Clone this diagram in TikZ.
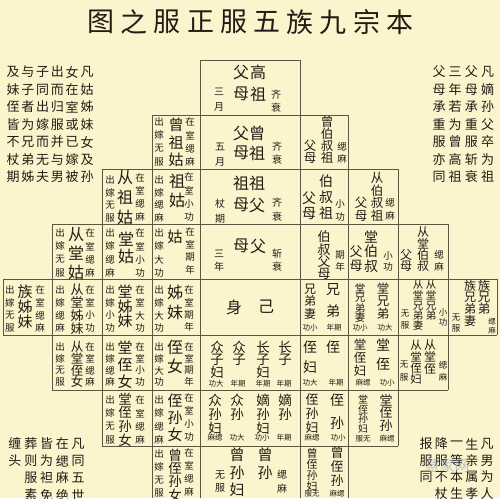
\documentclass[tikz,border=0pt]{standalone}
\usepackage{fontspec}
\setmainfont{Noto Sans CJK SC}
\definecolor{bgc}{RGB}{251,244,205}
\definecolor{lnc}{RGB}{95,85,65}
\definecolor{txc}{RGB}{35,28,20}
\definecolor{wmc}{RGB}{150,160,190}
\tikzset{
  chr/.style={inner sep=0pt, outer sep=0pt, text=txc},
  gl/.style={draw=lnc, line width=0.8pt},
}
% vertical column of characters: x, y of first centre, step, size, list
\newcommand{\vt}[5]{\foreach \zc [count=\zi from 0] in {#5}{\node[chr, font=\fontsize{#4}{#4}\selectfont] at ({#1},{#2+\zi*#3}) {\zc};}}
% horizontal row of characters: x of first centre, y, step, size, list
\newcommand{\hrow}[5]{\foreach \zc [count=\zi from 0] in {#5}{\node[chr, font=\fontsize{#4}{#4}\selectfont] at ({#1+\zi*#3},{#2}) {\zc};}}
% small horizontal note
\newcommand{\nt}[3]{\node[chr, font=\fontsize{7.5}{7.5}\selectfont] at (#1,#2) {#3};}
\begin{document}
\begin{tikzpicture}[x=1pt,y=-1pt]
\fill[bgc] (0,0) rectangle (500,498);
\useasboundingbox (0,0) rectangle (500,498);
% title
\hrow{101}{22}{33.2}{27}{图,之,服,正,服,五,族,九,宗,本}
% corner texts
\hrow{13}{72}{14.8}{13}{及,与,子,出,女,凡}
\hrow{13}{89.5}{14.8}{13}{妹,子,同,而,在,姑}
\hrow{13}{107}{14.8}{13}{侄,者,出,归,室,姊}
\hrow{13}{124.5}{14.8}{13}{皆,为,嫁,服,或,妹}
\hrow{13}{142}{14.8}{13}{不,兄,而,并,已,女}
\hrow{13}{159.5}{14.8}{13}{杖,弟,无,与,嫁,及}
\hrow{13}{177}{14.8}{13}{期,姊,夫,男,被,孙}
\hrow{439}{72}{16.2}{13}{父,三,父,凡}
\hrow{439}{89.5}{16.2}{13}{母,年,母,嫡}
\hrow{439}{107}{16.2}{13}{承,若,承,孙}
\hrow{439}{124.5}{16.2}{13}{重,为,重,父}
\hrow{439}{142}{16.2}{13}{服,曾,服,卒}
\hrow{439}{159.5}{16.2}{13}{亦,高,斩,为}
\hrow{439}{177}{16.2}{13}{同,祖,衰,祖}
\hrow{15}{444}{15.75}{13}{缠,葬,皆,在,凡}
\hrow{15}{461}{15.75}{13}{头,则,为,缌,同}
\hrow{30.75}{478}{15.75}{13}{服,袒,麻,五}
\hrow{30.75}{495}{15.75}{13}{素,免,绝,世}
\hrow{426}{444}{15.25}{13}{报,降,一,生,凡}
\hrow{426}{460.5}{15.25}{13}{服,服,等,亲,男}
\hrow{426}{477}{15.25}{13}{同,不,本,属,为}
\hrow{441.25}{493.5}{15.25}{13}{杖,生,孝,人}
% grid
\draw[gl] (200,60) -- (300,60);
\draw[gl] (152,115) -- (348,115);
\draw[gl] (102,169) -- (398,169);
\draw[gl] (52,224) -- (448,224);
\draw[gl] (3,279) -- (497,279);
\draw[gl] (3,335) -- (497,335);
\draw[gl] (52,390) -- (448,390);
\draw[gl] (102,446) -- (398,446);
\draw[gl] (3,279) -- (3,335);
\draw[gl] (52,224) -- (52,390);
\draw[gl] (102,169) -- (102,446);
\draw[gl] (152,115) -- (152,498);
\draw[gl] (200,60) -- (200,498);
\draw[gl] (300,60) -- (300,498);
\draw[gl] (348,115) -- (348,498);
\draw[gl] (398,169) -- (398,446);
\draw[gl] (448,224) -- (448,390);
\draw[gl] (497,279) -- (497,335);
% centre column
\vt{258}{72}{22}{16}{高,祖}
\vt{241}{72}{22}{16}{父,母}
\vt{219}{92}{15}{10}{三,月}
\vt{276}{95}{13}{10}{齐,衰}
\vt{257}{133}{20}{16}{曾,祖}
\vt{241}{133}{20}{16}{父,母}
\vt{220}{147}{15}{10}{五,月}
\vt{277}{147}{13}{10}{齐,衰}
\vt{257}{183}{22}{16}{祖,父}
\vt{241}{183}{22}{16}{祖,母}
\vt{220}{204}{15}{10}{杖,期}
\vt{277}{203}{14}{10}{齐,衰}
\vt{258}{246}{0}{16}{父}
\vt{241}{246}{0}{16}{母}
\vt{219}{254}{13}{10}{三,年}
\vt{277}{254}{13}{10}{斩,衰}
\hrow{234}{307}{32}{16}{身,己}
\vt{217}{347}{12.5}{13.5}{众,子,妇}
\vt{239}{347}{12.5}{13.5}{众,子}
\vt{263}{347}{12.5}{13.5}{长,子,妇}
\vt{285}{347}{12.5}{13.5}{长,子}
\nt{216}{384}{功大}\nt{238}{384}{年期}\nt{263}{384}{年期}\nt{284}{384}{年期}
\vt{215}{400}{14}{13.5}{众,孙,妇}
\vt{237}{400}{14}{13.5}{众,孙}
\vt{263}{400}{14}{13.5}{嫡,孙,妇}
\vt{285}{400}{14}{13.5}{嫡,孙}
\nt{215}{438}{麻缌}\nt{237}{438}{功大}\nt{262}{438}{功小}\nt{284}{438}{年期}
\vt{237}{455}{17.5}{15}{曾,孙,妇}
\vt{265}{455}{17.5}{15}{曾,孙}
\vt{220}{475}{13}{10}{无,服}
\vt{282}{475}{14}{10}{缌,麻}
% female relatives (left)
\vt{159}{122}{13.3}{9.5}{出,嫁,无,服}
\vt{176}{125}{17.5}{15}{曾,祖,姑}
\vt{190}{122}{13.3}{9.5}{在,室,缌,麻}
\vt{110}{180}{12.7}{9.5}{出,嫁,无,服}
\vt{125}{178}{19.5}{16}{从,祖,姑}
\vt{140}{178}{13}{9.5}{在,室,缌,麻}
\vt{159}{180}{12.5}{9.5}{出,嫁,缌,麻}
\vt{177}{181}{19}{16}{祖,姑}
\vt{189}{177}{13.3}{9.5}{在,室,小,功}
\vt{159}{233}{13.3}{9.5}{出,嫁,大,功}
\vt{175}{237}{0}{15}{姑}
\vt{190}{232}{12.7}{9.5}{在,室,期,年}
\vt{110}{233}{13.3}{9.5}{出,嫁,缌,麻}
\vt{126}{239}{17}{16}{堂,姑}
\vt{140}{233}{13.3}{9.5}{在,室,小,功}
\vt{60}{233}{13.3}{9.5}{出,嫁,无,服}
\vt{76}{235}{18.5}{16}{从,堂,姑}
\vt{90}{233}{13.3}{9.5}{在,室,缌,麻}
\vt{10}{290}{12.7}{9.5}{出,嫁,无,服}
\vt{25}{292}{15}{15}{族,姊,妹}
\vt{40}{290}{12.7}{9.5}{在,室,缌,麻}
\vt{60}{290}{12.7}{9.5}{出,嫁,缌,麻}
\vt{77}{290}{12.7}{13}{从,堂,姊,妹}
\vt{90}{290}{12.7}{9.5}{在,室,小,功}
\vt{110}{290}{12.7}{9.5}{出,嫁,小,功}
\vt{125}{292}{14.5}{15}{堂,姊,妹}
\vt{140}{290}{12.7}{9.5}{在,室,大,功}
\vt{159}{290}{12.7}{9.5}{出,嫁,大,功}
\vt{175}{292}{20}{16}{姊,妹}
\vt{189}{290}{12.3}{9.5}{在,室,期,年}
\vt{60}{347}{11.7}{9.5}{出,嫁,无,服}
\vt{77}{347}{11.7}{12.5}{从,堂,侄,女}
\vt{90}{347}{11.7}{9.5}{在,室,缌,麻}
\vt{110}{347}{11.7}{9.5}{出,嫁,缌,麻}
\vt{125}{348}{17}{15}{堂,侄,女}
\vt{140}{347}{11.7}{9.5}{在,室,小,功}
\vt{159}{347}{11.7}{9.5}{出,嫁,大,功}
\vt{175}{347}{19}{16}{侄,女}
\vt{189}{347}{11.7}{9.5}{在,室,期,年}
\vt{110}{400}{13.3}{9.5}{出,嫁,无,服}
\vt{125}{399}{13.7}{13.5}{堂,侄,孙,女}
\vt{140}{400}{13.3}{9.5}{在,室,缌,麻}
\vt{159}{400}{13.3}{9.5}{出,嫁,缌,麻}
\vt{175}{401}{17}{15}{侄,孙,女}
\vt{189}{398}{13}{9.5}{在,室,小,功}
\vt{159}{454}{13}{9.5}{出,嫁,无,服}
\vt{175}{455}{13.3}{13.5}{曾,侄,孙,女}
\vt{189}{453}{13}{9.5}{在,室,缌,麻}
% male relatives (right)
\vt{327}{122}{12}{12.5}{曾,伯,叔,祖}
\vt{310}{146}{12}{12.5}{父,母}
\vt{342}{147}{11.5}{9.5}{缌,麻}
\vt{326}{181}{16}{14}{伯,叔,祖}
\vt{309}{198}{15.5}{14}{父,母}
\vt{340}{204}{13}{9.5}{小,功}
\vt{377}{178}{12.6}{12.5}{从,伯,叔,祖}
\vt{361}{203}{12.6}{12.5}{父,母}
\vt{390}{203}{12.6}{9.5}{缌,麻}
\vt{324}{237}{12.3}{13}{伯,叔,父,母}
\vt{340}{255}{12}{9.5}{期,年}
\vt{371}{237}{14.5}{14}{堂,伯,叔}
\vt{356}{252}{14}{13}{父,母}
\vt{388}{256}{11}{9.5}{小,功}
\vt{423}{232}{11.3}{12}{从,堂,伯,叔}
\vt{406}{255}{11.3}{12}{父,母}
\vt{439}{255}{11.5}{9.5}{缌,麻}
\vt{333}{290}{21}{14}{兄,弟}
\vt{310}{289}{12.3}{12}{兄,弟,妻}
\nt{310}{328}{功小}\nt{334}{328}{年期}
\vt{383}{289}{12.5}{12.5}{堂,兄,弟}
\vt{360}{288}{10}{10.5}{堂,兄,弟,妻}
\nt{360}{328}{功小}\nt{385}{328}{功大}
\vt{431}{285}{10.2}{10.5}{从,堂,兄,弟}
\vt{418}{285}{10.2}{10.5}{从,堂,兄,弟,妻}
\vt{405}{314}{11}{8.5}{无,服}
\vt{443}{312}{10.5}{8.5}{小,功}
\vt{484}{286}{11.5}{12.5}{族,兄,弟}
\vt{470}{286}{11.5}{12}{族,兄,弟,妻}
\vt{456}{318}{10}{8.5}{无,服}
\vt{492}{322}{9}{7.5}{缌,麻}
\vt{333}{347}{0}{14}{侄}
\vt{310}{347}{20}{14}{侄,妇}
\nt{310}{383}{功大}\nt{336}{383}{年期}
\vt{383}{345}{19}{14}{堂,侄}
\vt{360}{345}{13}{12.5}{堂,侄,妇}
\nt{363}{383}{麻缌}\nt{387}{383}{功小}
\vt{430}{345}{12}{12}{从,堂,侄}
\vt{416}{345}{11.5}{11.5}{从,堂,侄,妇}
\vt{404}{365}{12}{8.5}{无,服}
\vt{443}{365}{12}{8.5}{缌,麻}
\vt{337}{400}{23}{14}{侄,孙}
\vt{312}{400}{14}{13}{侄,孙,妇}
\nt{312}{438}{麻缌}\nt{338}{438}{功小}
\vt{386}{400}{13}{13}{堂,侄,孙}
\vt{363}{400}{9.5}{10}{堂,侄,孙,妇}
\nt{363}{439}{服无}\nt{387}{439}{麻缌}
\vt{337}{453}{14}{13}{曾,侄,孙}
\vt{312}{453}{11}{11}{曾,侄,孙,妇}
\nt{312}{494}{服无}\nt{337}{494}{麻缌}
% watermark
\node[chr, text=wmc, opacity=0.6, font=\fontsize{15}{15}\selectfont] at (447,466) {慧家网};
\end{tikzpicture}
\end{document}
